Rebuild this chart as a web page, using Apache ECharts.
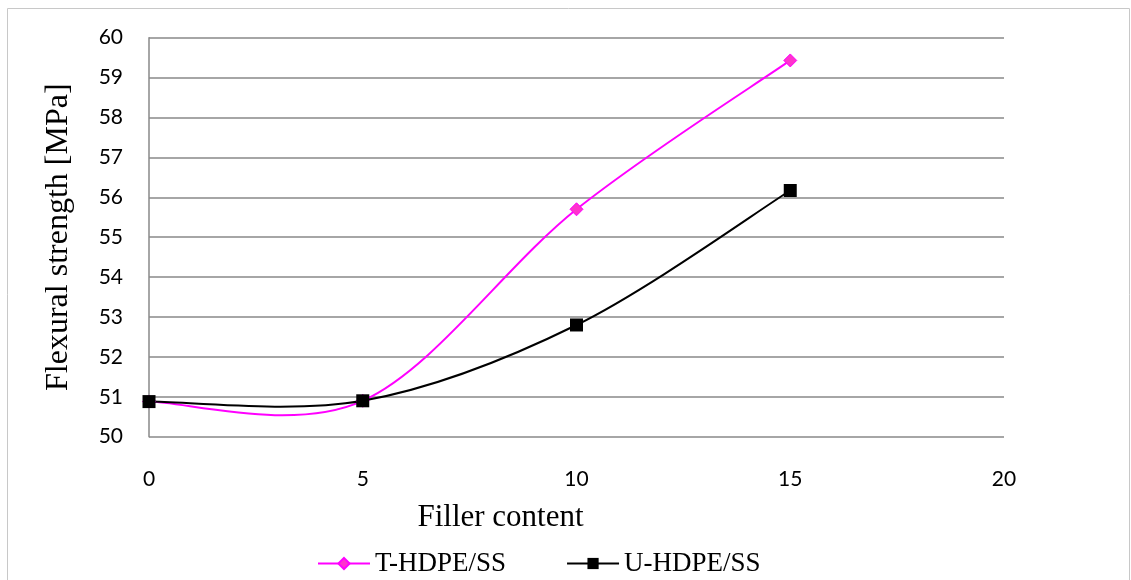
<!DOCTYPE html>
<html>
<head>
<meta charset="utf-8">
<script src="https://cdn.jsdelivr.net/npm/echarts@6/dist/echarts.min.js"></script>
<style>
  html, body { margin: 0; padding: 0; background: #fff; }
  #chart { width: 1131px; height: 580px; }
</style>
</head>
<body>
<div id="chart"></div>
<script>
// Filler content (wt%) and flexural strength readings (MPa)
const fillerContent = [0, 5, 10, 15];
const tHdpeSS = [50.88, 50.9, 55.7, 59.43];
const uHdpeSS = [50.88, 50.9, 52.8, 56.17];
const seriesNames = ['T-HDPE/SS', 'U-HDPE/SS'];
const seriesColors = ['#ff00ff', '#000000'];

const pairs = (xs, ys) => xs.map((x, i) => [x, ys[i]]);

const tickFont = { fontFamily: 'Lato, "Open Sans", sans-serif', fontSize: 21, color: '#000' };
const serif = '"Liberation Serif", "Times New Roman", serif';

// Smoothed curve through the data points (cardinal spline, tension 1/6),
// built in pixel space from the axis scales.
function smoothCurve(ys, color) {
  return function (params, api) {
    if (params.dataIndex !== 0) return null;
    const pts = fillerContent.map((x, i) => api.coord([x, ys[i]]));
    const children = [];
    for (let i = 0; i < pts.length - 1; i++) {
      const p0 = pts[i - 1] || pts[i];
      const p1 = pts[i];
      const p2 = pts[i + 1];
      const p3 = pts[i + 2] || pts[i + 1];
      children.push({
        type: 'bezierCurve',
        shape: {
          x1: p1[0], y1: p1[1],
          cpx1: p1[0] + (p2[0] - p0[0]) / 6, cpy1: p1[1] + (p2[1] - p0[1]) / 6,
          cpx2: p2[0] - (p3[0] - p1[0]) / 6, cpy2: p2[1] - (p3[1] - p1[1]) / 6,
          x2: p2[0], y2: p2[1]
        },
        style: { stroke: color, lineWidth: 2, fill: null }
      });
    }
    return { type: 'group', children: children };
  };
}

const chart = echarts.init(document.getElementById('chart'), null, { renderer: 'canvas' });

chart.setOption({
  backgroundColor: '#fff',
  animation: false,
  graphic: [{
    type: 'rect',
    shape: { x: 7.5, y: 8.5, width: 1122, height: 600 },
    style: { fill: 'none', stroke: '#c8c8c8', lineWidth: 1 },
    silent: true
  }],
  grid: { left: 149, right: 127, top: 37.7, bottom: 143.3, containLabel: false },
  xAxis: {
    type: 'value',
    min: 0, max: 20, interval: 5,
    name: 'Filler content',
    nameLocation: 'middle',
    nameGap: 66,
    nameTextStyle: { fontFamily: serif, fontSize: 31, color: '#000', padding: [0, 152, 0, 0] },
    axisLine: { show: false },
    axisTick: { show: false },
    splitLine: { show: false },
    axisLabel: Object.assign({ margin: 32 }, tickFont)
  },
  yAxis: {
    type: 'value',
    min: 50, max: 60, interval: 1,
    name: 'Flexural strength [MPa]',
    nameLocation: 'middle',
    nameGap: 74,
    nameRotate: 90,
    nameTextStyle: { fontFamily: serif, fontSize: 32, color: '#000' },
    axisLine: { show: true, lineStyle: { color: '#888', width: 1.5 } },
    axisTick: { show: false },
    splitLine: { show: true, lineStyle: { color: '#888', width: 1.5 } },
    axisLabel: Object.assign({ margin: 26 }, tickFont)
  },
  legend: {
    top: 545,
    left: 312,
    itemGap: 60,
    itemWidth: 52,
    itemHeight: 14,
    textStyle: { fontFamily: serif, fontSize: 27, color: '#000' },
    data: seriesNames.map((name, i) => ({
      name: name,
      lineStyle: { color: seriesColors[i], width: 2, opacity: 1 }
    }))
  },
  series: [
    // markers (also provide the legend icons)
    {
      name: seriesNames[0],
      type: 'line',
      data: pairs(fillerContent, tHdpeSS),
      lineStyle: { color: seriesColors[0], width: 2, opacity: 0 },
      itemStyle: { color: '#ff33cc', borderColor: '#ff00ff', borderWidth: 1 },
      symbol: 'diamond',
      symbolSize: 13,
      z: 3
    },
    {
      name: seriesNames[1],
      type: 'line',
      data: pairs(fillerContent, uHdpeSS),
      lineStyle: { color: seriesColors[1], width: 2, opacity: 0 },
      itemStyle: { color: '#000' },
      symbol: 'rect',
      symbolSize: 13,
      z: 4
    },
    // smoothed connecting curves
    {
      name: seriesNames[0],
      type: 'custom',
      renderItem: smoothCurve(tHdpeSS, seriesColors[0]),
      data: pairs(fillerContent, tHdpeSS),
      itemStyle: { color: seriesColors[0] },
      silent: true,
      z: 2
    },
    {
      name: seriesNames[1],
      type: 'custom',
      renderItem: smoothCurve(uHdpeSS, seriesColors[1]),
      data: pairs(fillerContent, uHdpeSS),
      itemStyle: { color: seriesColors[1] },
      silent: true,
      z: 2
    }
  ]
});
</script>
</body>
</html>
